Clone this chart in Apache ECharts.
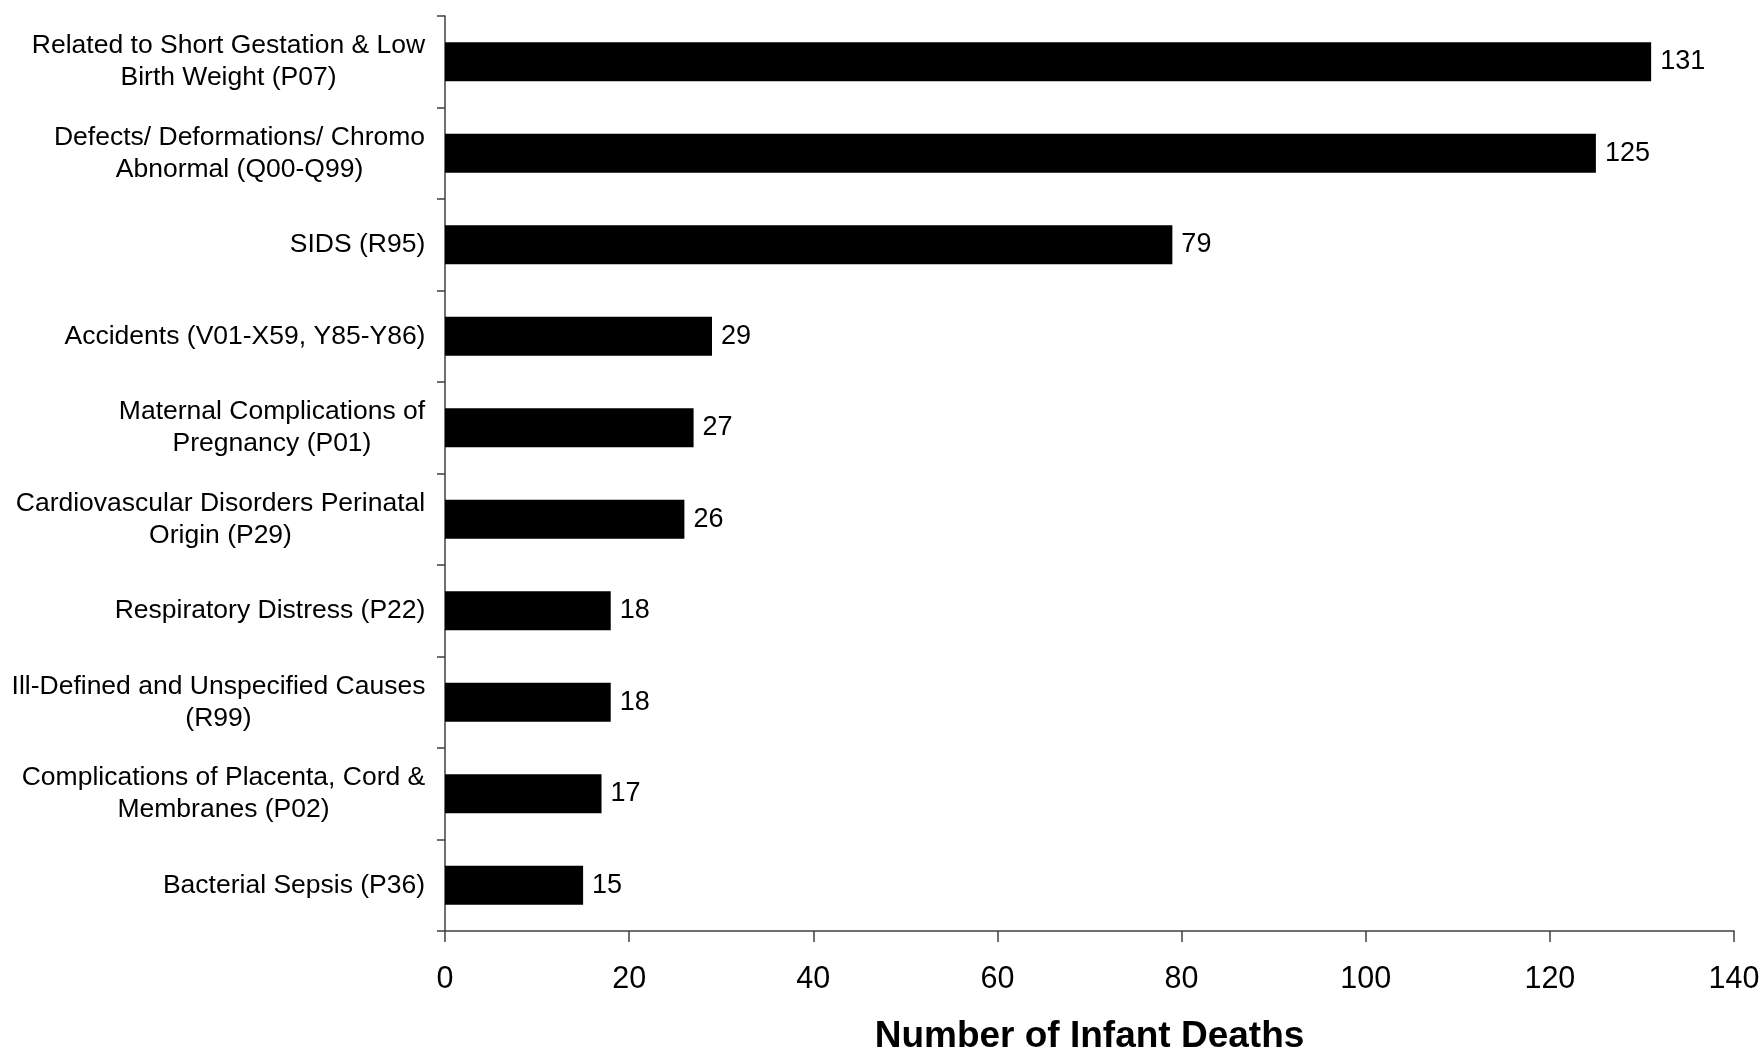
<!DOCTYPE html>
<html>
<head>
<meta charset="utf-8">
<script src="https://cdn.jsdelivr.net/npm/echarts@6/dist/echarts.min.js"></script>
<style>
html,body{margin:0;padding:0;background:#fff;}
#chart{width:1764px;height:1052px;}
</style>
</head>
<body>
<div id="chart"></div>
<script>
const categories = [
  'Related to Short Gestation & Low\nBirth Weight (P07)',
  'Defects/ Deformations/ Chromo\nAbnormal (Q00-Q99)',
  'SIDS (R95)',
  'Accidents (V01-X59, Y85-Y86)',
  'Maternal Complications of\nPregnancy (P01)',
  'Cardiovascular Disorders Perinatal\nOrigin (P29)',
  'Respiratory Distress (P22)',
  'Ill-Defined and Unspecified Causes\n(R99)',
  'Complications of Placenta, Cord &\nMembranes (P02)',
  'Bacterial Sepsis (P36)'
];
const deaths = [131, 125, 79, 29, 27, 26, 18, 18, 17, 15];
const xTicks = [0, 20, 40, 60, 80, 100, 120, 140];
const xTitle = 'Number of Infant Deaths';

const FONT = "'Liberation Sans', Arial, sans-serif";
const catSize = 26.5;

// measure label lines so multi-line labels are centered within their own block
const ctx = document.createElement('canvas').getContext('2d');
ctx.font = catSize + "px 'Liberation Sans'";
const rich = {};
categories.forEach((c, i) => {
  const w = Math.max(...c.split('\n').map(l => ctx.measureText(l).width));
  rich['r' + i] = { width: Math.ceil(w) + 1, align: 'center', fontSize: catSize, fontFamily: FONT, color: '#000', lineHeight: 32 };
});

const chart = echarts.init(document.getElementById('chart'), null, { renderer: 'canvas' });
chart.setOption({
  animation: false,
  backgroundColor: '#fff',
  grid: { left: 445, right: 30, top: 16, bottom: 121, containLabel: false, outerBoundsMode: 'none' },
  xAxis: {
    type: 'value',
    min: xTicks[0],
    max: xTicks[xTicks.length - 1],
    interval: xTicks[1] - xTicks[0],
    splitLine: { show: false },
    axisLine: { show: true, lineStyle: { color: '#404040', width: 1.5 } },
    axisTick: { show: true, length: 11, lineStyle: { color: '#404040', width: 1.5 } },
    axisLabel: { fontSize: 30.5, fontFamily: FONT, color: '#000', margin: 33 },
    name: xTitle,
    nameLocation: 'middle',
    nameGap: 87,
    nameTextStyle: { fontSize: 37, fontWeight: 'bold', fontFamily: FONT, color: '#000' }
  },
  yAxis: {
    type: 'category',
    data: categories,
    inverse: true,
    axisLine: { show: true, lineStyle: { color: '#404040', width: 1.5 } },
    axisTick: { show: true, length: 8, lineStyle: { color: '#404040', width: 1.5 } },
    axisLabel: {
      margin: 19,
      interval: 0,
      fontSize: catSize,
      fontFamily: FONT,
      color: '#000',
      lineHeight: 32,
      formatter: function (value, index) {
        return value.split('\n').map(l => '{r' + index + '|' + l + '}').join('\n');
      },
      rich: rich
    }
  },
  series: [{
    type: 'bar',
    data: deaths,
    barWidth: '42.6%',
    itemStyle: { color: '#000' },
    label: {
      show: true,
      position: 'right',
      distance: 9,
      fontSize: 27,
      fontFamily: FONT,
      color: '#000'
    }
  }]
});
</script>
</body>
</html>
